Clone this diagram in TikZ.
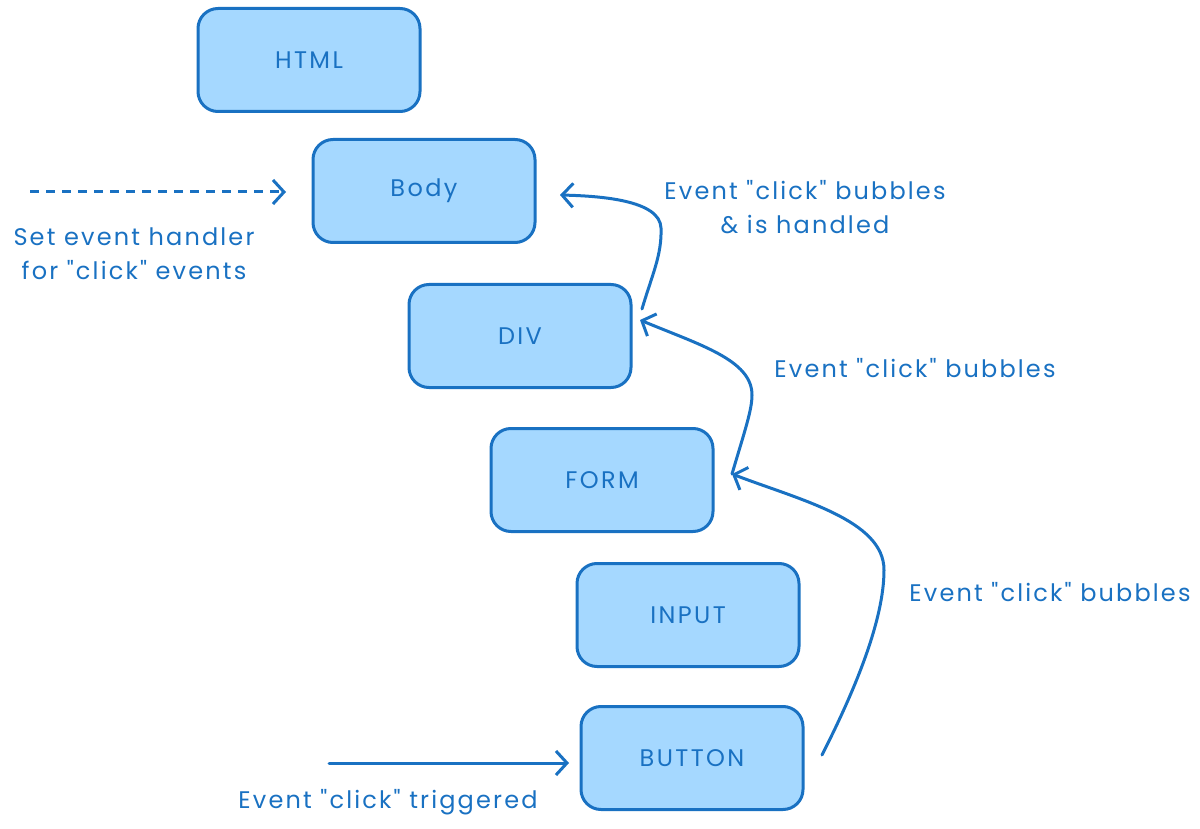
\documentclass[tikz,border=0pt]{standalone}
\usepackage{fontspec}
\setmainfont{Poppins}
\newfontfamily\lblfont[LetterSpace=9]{Poppins}
\newfontfamily\boxfont[LetterSpace=10]{Poppins}
\usetikzlibrary{arrows.meta}
\definecolor{stroke}{HTML}{1971C2}
\definecolor{boxfill}{HTML}{A5D8FF}
\newcommand{\qq}{\symbol{34}}
\tikzset{
  elem/.style={draw=stroke, fill=boxfill, line width=3pt, rounded corners=20pt,
    minimum width=222pt, minimum height=103pt, inner sep=0pt,
    text=stroke, font=\boxfont\fontsize{24pt}{28pt}\selectfont},
  lbl/.style={text=stroke, font=\lblfont\fontsize{24pt}{34pt}\selectfont, align=center, inner sep=0pt},
  conn/.style={draw=stroke, line width=3pt, line cap=round,
    -{Straight Barb[length=11pt,width=24pt,line width=3pt]}},
}
\begin{document}
\begin{tikzpicture}[x=1pt,y=-1pt]
\useasboundingbox (0,0) rectangle (1200,829);
\node[elem] (html) at (309,60) {HTML};
\node[elem] (body) at (424,191) {Body};
\node[elem] (div) at (520,336) {DIV};
\node[elem] (form) at (602,480) {FORM};
\node[elem] (input) at (688,615) {INPUT};
\node[elem] (button) at (692,758) {BUTTON};

\node[lbl] (lset) at (134,254) {Set event handler\\for \qq click\qq{} events};
\node[lbl] (lhandled) at (805,207) {Event \qq click\qq{} bubbles\\\& is handled};
\node[lbl] (lb1) at (915,368) {Event \qq click\qq{} bubbles};
\node[lbl] (lb2) at (1050,592) {Event \qq click\qq{} bubbles};
\node[lbl] (ltrig) at (388,802) {Event \qq click\qq{} triggered};

\coordinate (setstart) at (30,192);
\coordinate (setend) at (286,192);
\coordinate (trigstart) at (329,763);
\coordinate (trigend) at (569,763);
\coordinate (bstart) at (822,755);
\coordinate (fend) at (732,474);
\coordinate (dend) at (640,320);
\coordinate (dstart) at (642,309);
\coordinate (bend) at (560,195);

\draw[conn, dashed, dash pattern=on 9pt off 7pt, line cap=butt] (setstart) -- (setend);
\draw[conn] (trigstart) -- (trigend);
\draw[conn] (bstart) .. controls (855,690) and (884,620) .. (884,570)
  .. controls (884,520) and (800,500) .. (fend);
\draw[conn] (fend) .. controls (745,430) and (752,410) .. (752,395)
  .. controls (752,360) and (700,345) .. (dend);
\draw[conn] (dstart) .. controls (652,275) and (662,255) .. (661,228)
  .. controls (660,200) and (600,196) .. (bend);
\end{tikzpicture}
\end{document}
